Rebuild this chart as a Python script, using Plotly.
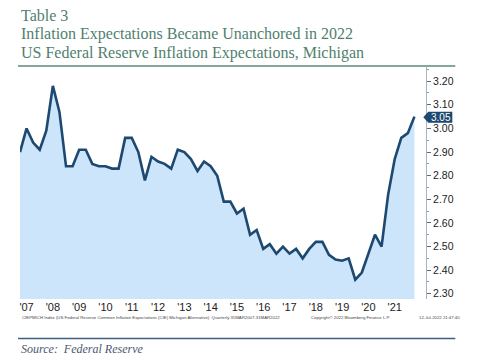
import plotly.graph_objects as go

# Quarterly values, Q1 2007 .. Q1 2022
values = [
    2.90, 3.00, 2.94, 2.91,
    2.99, 3.18, 3.07, 2.84,
    2.84, 2.91, 2.91, 2.85,
    2.84, 2.84, 2.83, 2.83,
    2.96, 2.96, 2.90, 2.78,
    2.88, 2.86, 2.85, 2.83,
    2.91, 2.90, 2.87, 2.82,
    2.86, 2.84, 2.80, 2.69,
    2.69, 2.64, 2.66, 2.55,
    2.57, 2.49, 2.51, 2.47,
    2.50, 2.47, 2.49, 2.45,
    2.49, 2.52, 2.52, 2.465,
    2.445, 2.44, 2.45, 2.36,
    2.39, 2.47, 2.55, 2.50,
    2.72, 2.87, 2.96, 2.98,
    3.05,
]
dates = [2007 + i / 4 for i in range(len(values))]
xtick_years = list(range(2007, 2022))
xtick_labels = ["'%02d" % (y % 100) for y in xtick_years]
ytick_vals = [2.30, 2.40, 2.50, 2.60, 2.70, 2.80, 2.90, 3.00, 3.10, 3.20]
last_label = "3.05"

# page body has an 8px margin: lay out in reference pixels, shifted by OFF
OFF = 8
W, H = 480 - OFF, 362 - OFF
PL, PR, PT, PB = 20, 425.7, 67, 299          # plot box in reference pixels
ML, MT = PL - OFF, PT - OFF
MR, MB = W - (PR - OFF), H - (PB - OFF)
PW, PH = W - ML - MR, H - MT - MB


def px(x):
    return (x - PL) / PW


def py(y):
    return (PB - y) / PH


fig = go.Figure()
fig.add_trace(go.Scatter(
    x=dates, y=values, mode="lines",
    line=dict(color="#1d4870", width=2.6),
    fill="tozeroy", fillcolor="#cde5fb",
    hoverinfo="skip", showlegend=False,
))

tick_font = dict(family="Liberation Sans, Arial", size=10.5, color="#222")
fig.update_layout(
    width=W, height=H,
    margin=dict(l=ML, r=MR, t=MT, b=MB, pad=0),
    paper_bgcolor="white", plot_bgcolor="white",
    xaxis=dict(
        range=[2007.0, 2022.44], showgrid=False, zeroline=False,
        tickvals=[y + 0.25 for y in xtick_years], ticktext=xtick_labels,
        ticks="", tickfont=dict(family="Liberation Sans, Arial", size=11, color="#222"),
        showline=False, fixedrange=True,
    ),
    yaxis=dict(
        side="right", range=[2.278, 3.26], showgrid=False, zeroline=False,
        tickvals=ytick_vals, ticktext=["%.2f" % v for v in ytick_vals],
        ticks="outside", ticklen=4, tickcolor="#5a6b7d", tickwidth=1,
        minor=dict(tickvals=[v + 0.05 for v in ytick_vals], ticks="outside", ticklen=2, tickcolor="#8a9aab"),
        showline=True, linecolor="#a8b4c0", linewidth=1,
        tickfont=tick_font,
        fixedrange=True,
    ),
)

title_font = dict(family="Liberation Serif, Times New Roman, serif", size=16, color="#4f7f6e")
titles = [
    ("Table 3", 15),
    ("Inflation Expectations Became Unanchored in 2022", 34),
    ("US Federal Reserve Inflation Expectations, Michigan", 53),
]
for text, yc in titles:
    fig.add_annotation(text=text, xref="paper", yref="paper", x=px(19), y=py(yc),
                       xanchor="left", yanchor="middle", showarrow=False, font=title_font)

# title underline
fig.add_shape(type="line", xref="paper", yref="paper", x0=px(18), x1=px(455), y0=py(66), y1=py(66),
              line=dict(color="#5b8a78", width=1.5))

# footer texts
foot_font = dict(family="Liberation Sans, Arial", size=4.3, color="#444")
fig.add_annotation(text="CIEPMICH Index (US Federal Reserve Common Inflation Expectations (CIE) Michigan Alternative)  Quarterly 31MAR2007-31MAR2022",
                   xref="paper", yref="paper", x=px(20), y=py(317), xanchor="left", yanchor="middle",
                   showarrow=False, font=foot_font)
fig.add_annotation(text="Copyright\u00a9 2022 Bloomberg Finance L.P.",
                   xref="paper", yref="paper", x=px(309), y=py(317), xanchor="left", yanchor="middle",
                   showarrow=False, font=foot_font)
fig.add_annotation(text="12-Jul-2022 21:47:40",
                   xref="paper", yref="paper", x=px(417), y=py(317), xanchor="left", yanchor="middle",
                   showarrow=False, font=foot_font)

# bottom rule and source
fig.add_shape(type="line", xref="paper", yref="paper", x0=px(18), x1=px(455), y0=py(338.5), y1=py(338.5),
              line=dict(color="#3d5f86", width=1.5))
fig.add_annotation(text="<i>Source:  Federal Reserve</i>", xref="paper", yref="paper", x=px(19), y=py(348.5),
                   xanchor="left", yanchor="middle", showarrow=False,
                   font=dict(family="Liberation Serif, Times New Roman, serif", size=12, color="#4a5870"))

# last value marker
path = "M {},{} L {},{} L {},{} L {},{} L {},{} Z".format(
    px(423), py(117.3), px(428), py(111.8), px(452), py(111.8), px(452), py(122.8), px(428), py(122.8))
fig.add_shape(type="path", xref="paper", yref="paper", path=path,
              fillcolor="#1d4870", line=dict(color="#1d4870", width=0))
fig.add_annotation(text=last_label, xref="paper", yref="paper", x=px(440.5), y=py(117.3),
                   xanchor="center", yanchor="middle", showarrow=False,
                   font=dict(family="Liberation Sans, Arial", size=10, color="white"))

fig.write_html("out.html")
